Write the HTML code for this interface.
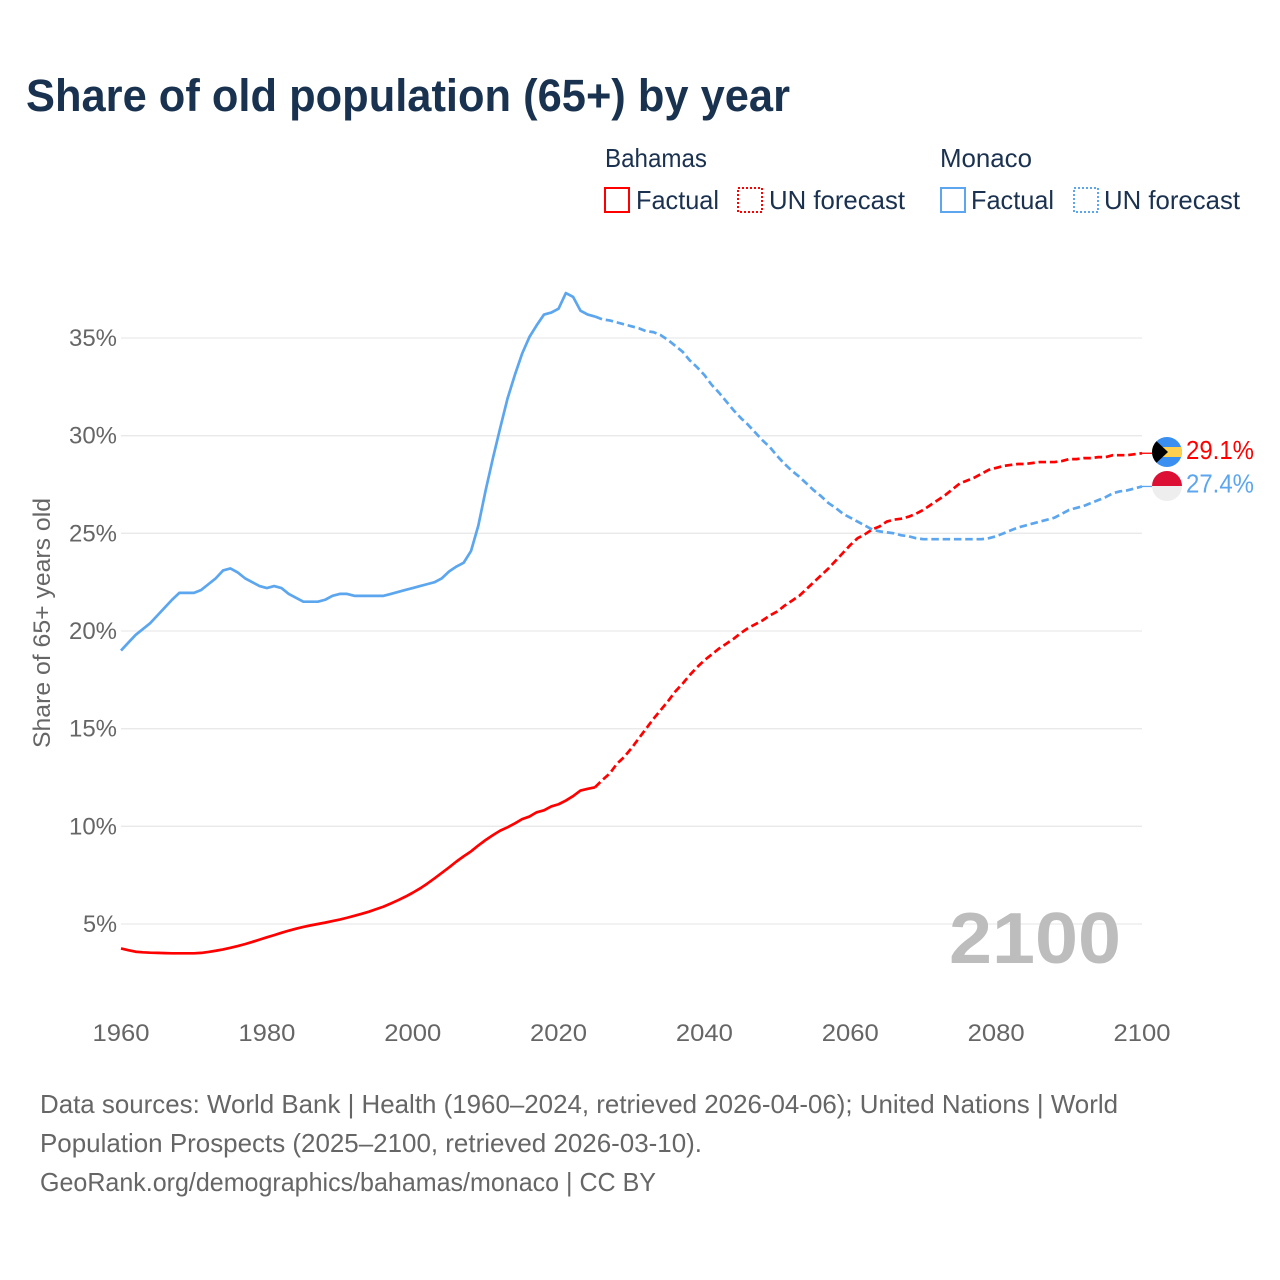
<!DOCTYPE html>
<html lang="en">
<head>
<meta charset="utf-8">
<title>Share of old population (65+) by year</title>
<style>
html,body{margin:0;padding:0;background:#fff;}
svg{display:block;font-family:"Liberation Sans",sans-serif;}
</style>
</head>
<body>
<svg id="chart" xmlns="http://www.w3.org/2000/svg" width="1280" height="1280" viewBox="0 0 1280 1280">
  <rect x="0" y="0" width="1280" height="1280" fill="#ffffff"/>
  <text x="26" y="111" font-size="45" font-weight="700" fill="#18324f" textLength="764" lengthAdjust="spacingAndGlyphs">Share of old population (65+) by year</text>

  <g font-size="26" fill="#1a3150">
    <text x="605" y="167" textLength="102" lengthAdjust="spacingAndGlyphs">Bahamas</text>
    <text x="940" y="167" textLength="92" lengthAdjust="spacingAndGlyphs">Monaco</text>
    <rect x="605" y="188" width="24" height="24" fill="none" stroke="#ff0000" stroke-width="2"/>
    <text x="636" y="209" textLength="83" lengthAdjust="spacingAndGlyphs">Factual</text>
    <rect x="738" y="188" width="24" height="24" fill="none" stroke="#ff0000" stroke-width="2" stroke-dasharray="2,2"/>
    <text x="769" y="209" textLength="136" lengthAdjust="spacingAndGlyphs">UN forecast</text>
    <rect x="941" y="188" width="24" height="24" fill="none" stroke="#5ba6ee" stroke-width="2"/>
    <text x="971" y="209" textLength="83" lengthAdjust="spacingAndGlyphs">Factual</text>
    <rect x="1074" y="188" width="24" height="24" fill="none" stroke="#5ba6ee" stroke-width="2" stroke-dasharray="2,2"/>
    <text x="1104" y="209" textLength="136" lengthAdjust="spacingAndGlyphs">UN forecast</text>
  </g>

  <g id="grid"></g>
  <g id="y-ticks"></g>
  <g id="x-ticks"></g>
  <text transform="translate(50,748) rotate(-90)" x="0" y="0" font-size="24" fill="#666666" textLength="250" lengthAdjust="spacingAndGlyphs">Share of 65+ years old</text>

  <text x="949" y="963" font-size="72" font-weight="700" fill="#bdbdbd" textLength="172" lengthAdjust="spacingAndGlyphs">2100</text>

  <g id="series"></g>

  <defs>
    <clipPath id="flag-clip-bahamas"><circle id="clip-b" cx="1167" cy="452" r="15"/></clipPath>
    <clipPath id="flag-clip-monaco"><circle id="clip-m" cx="1167" cy="486" r="15"/></clipPath>
  </defs>
  <g id="end-labels"></g>

  <g clip-path="url(#flag-clip-bahamas)">
    <rect x="1152" y="437" width="30" height="30" fill="#3a8ff0"/>
    <rect x="1152" y="447" width="30" height="10" fill="#ffd04f"/>
    <polygon points="1152,437 1168,452 1152,467" fill="#000000"/>
  </g>
  <g clip-path="url(#flag-clip-monaco)">
    <rect x="1152" y="471" width="30" height="15" fill="#dc1034"/>
    <rect x="1152" y="486" width="30" height="15" fill="#eeeeee"/>
  </g>

  <g font-size="26" fill="#666666">
    <text x="40" y="1113" textLength="1078" lengthAdjust="spacingAndGlyphs">Data sources: World Bank | Health (1960–2024, retrieved 2026-04-06); United Nations | World</text>
    <text x="40" y="1152" textLength="662" lengthAdjust="spacingAndGlyphs">Population Prospects (2025–2100, retrieved 2026-03-10).</text>
    <text x="40" y="1191" textLength="616" lengthAdjust="spacingAndGlyphs">GeoRank.org/demographics/bahamas/monaco | CC BY</text>
  </g>
</svg>
<script>
const factualStartYear = 1960;
const forecastStartYear = 2025;
const yTickValues = [5, 10, 15, 20, 25, 30, 35];
const xTickYears = [1960, 1980, 2000, 2020, 2040, 2060, 2080, 2100];
const bahamasFactual = [
  3.75,3.66,3.58,3.55,3.53,3.52,3.51,3.5,3.5,3.5,
  3.5,3.52,3.57,3.63,3.7,3.78,3.87,3.97,4.08,4.2,
  4.32,4.43,4.55,4.66,4.76,4.85,4.93,5.0,5.07,5.15,
  5.23,5.32,5.42,5.52,5.63,5.76,5.89,6.05,6.22,6.4,
  6.6,6.82,7.07,7.34,7.62,7.9,8.2,8.47,8.72,9.02,
  9.3,9.55,9.78,9.95,10.15,10.37,10.5,10.72,10.82,11.02,
  11.13,11.32,11.55,11.83,11.92,12.0
];
const bahamasForecast = [
  12.0,12.37,12.7,13.2,13.55,
  14.0,14.5,15.0,15.5,15.95,16.4,16.9,17.3,17.75,18.15,
  18.5,18.8,19.1,19.35,19.6,19.9,20.15,20.35,20.55,20.8,
  21.0,21.3,21.55,21.8,22.15,22.5,22.85,23.2,23.6,24.0,
  24.4,24.75,24.95,25.2,25.35,25.6,25.7,25.75,25.85,26.0,
  26.2,26.45,26.7,26.95,27.25,27.55,27.7,27.85,28.05,28.25,
  28.35,28.45,28.5,28.55,28.55,28.6,28.65,28.65,28.65,28.7,
  28.8,28.8,28.85,28.85,28.9,28.9,29.0,29.0,29.0,29.05,
  29.1
];
const monacoFactual = [
  19.0,19.4,19.8,20.1,20.4,20.8,21.2,21.6,21.95,21.95,
  21.95,22.1,22.4,22.7,23.1,23.2,23.0,22.7,22.5,22.3,
  22.2,22.3,22.2,21.9,21.7,21.5,21.5,21.5,21.6,21.8,
  21.9,21.9,21.8,21.8,21.8,21.8,21.8,21.9,22.0,22.1,
  22.2,22.3,22.4,22.5,22.7,23.05,23.3,23.5,24.1,25.4,
  27.2,28.85,30.4,31.9,33.1,34.2,35.05,35.65,36.2,36.3,
  36.5,37.3,37.1,36.4,36.2,36.1
];
const monacoForecast = [
  36.1,35.95,35.9,35.8,35.7,
  35.6,35.5,35.35,35.3,35.15,34.9,34.6,34.3,33.85,33.5,
  33.1,32.6,32.2,31.75,31.3,30.9,30.55,30.15,29.75,29.4,
  28.95,28.55,28.2,27.9,27.55,27.2,26.9,26.55,26.3,26.0,
  25.8,25.6,25.4,25.2,25.1,25.05,25.0,24.9,24.85,24.75,
  24.7,24.7,24.7,24.7,24.7,24.7,24.7,24.7,24.7,24.75,
  24.85,25.0,25.15,25.3,25.4,25.5,25.6,25.7,25.8,26.0,
  26.2,26.3,26.4,26.55,26.7,26.85,27.05,27.15,27.2,27.3,
  27.4
];

const NS = 'http://www.w3.org/2000/svg';
function xScale(year) { return 121 + (year - 1960) * (1142 - 121) / 140; }
function yScale(v) { return 924 - (v - 5) * (924 - 338) / 30; }
function make(tag, attrs, parent, txt) {
  const el = document.createElementNS(NS, tag);
  for (const k in attrs) el.setAttribute(k, attrs[k]);
  if (txt !== undefined) el.textContent = txt;
  parent.appendChild(el);
  return el;
}
function linePath(values, start) {
  return values.map(function (v, i) {
    return (i ? 'L' : 'M') + xScale(start + i).toFixed(2) + ' ' + yScale(v).toFixed(2);
  }).join(' ');
}

const gridG = document.getElementById('grid');
const yTickG = document.getElementById('y-ticks');
yTickValues.forEach(function (v) {
  const line = make('line', {x1: 121, x2: 1142, y1: yScale(v), y2: yScale(v), stroke: '#e9e9e9', 'stroke-width': 1.3}, gridG);
  
  
  const label = v + '%';
  const w = label.length === 2 ? 34 : 48;
  const t = make('text', {x: 117 - w, y: yScale(v) + 8, 'font-size': 24, fill: '#666666', textLength: w, lengthAdjust: 'spacingAndGlyphs'}, yTickG, label);
  
  
});

const xTickG = document.getElementById('x-ticks');
xTickYears.forEach(function (yr) {
  const t = make('text', {x: xScale(yr) - 28.5, y: 1041, 'font-size': 24, fill: '#666666', textLength: 57, lengthAdjust: 'spacingAndGlyphs'}, xTickG, String(yr));
  
  
});

const seriesG = document.getElementById('series');
const seriesDefs = [
  {id: 'bahamas-factual', values: bahamasFactual, start: factualStartYear, color: '#ff0000', dash: null},
  {id: 'bahamas-forecast', values: bahamasForecast, start: forecastStartYear, color: '#ff0000', dash: '7.5,3.8'},
  {id: 'monaco-factual', values: monacoFactual, start: factualStartYear, color: '#5ba6ee', dash: null},
  {id: 'monaco-forecast', values: monacoForecast, start: forecastStartYear, color: '#5ba6ee', dash: '7.5,3.8'}
];
seriesDefs.forEach(function (s) {
  const p = make('path', {d: linePath(s.values, s.start), fill: 'none', stroke: s.color, 'stroke-width': 2.7, 'stroke-linejoin': 'round'}, seriesG);
  if (s.dash) p.setAttribute('stroke-dasharray', s.dash);
  
  
});

const endG = document.getElementById('end-labels');
const endDefs = [
  {id: 'bahamas', values: bahamasForecast, color: '#ff0000', dy: 6},
  {id: 'monaco', values: monacoForecast, color: '#5ba6ee', dy: 6}
];
endDefs.forEach(function (s) {
  const last = s.values[s.values.length - 1];
  const y = yScale(last);
  const c = make('line', {x1: 1142, x2: 1152, y1: y, y2: y, stroke: s.color, 'stroke-width': 1.3}, endG);
  
  
  const t = make('text', {x: 1186, y: y + s.dy, 'font-size': 26, fill: s.color, textLength: 68, lengthAdjust: 'spacingAndGlyphs'}, endG, last.toFixed(1) + '%');
  
  
});
</script>
</body>
</html>
